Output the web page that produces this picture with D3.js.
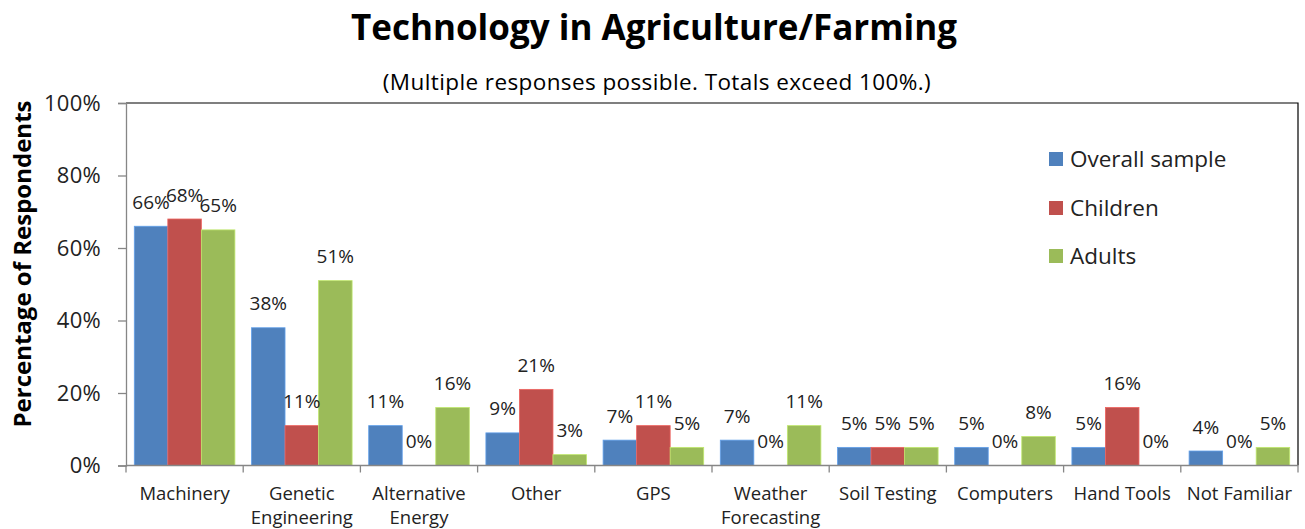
<!DOCTYPE html>
<html>
<head>
<meta charset="utf-8">
<script src="https://cdn.jsdelivr.net/npm/d3@7"></script>
<style>
  html, body { margin: 0; padding: 0; background: #fff; }
  svg { display: block; font-family: "Open Sans", sans-serif; }
</style>
</head>
<body>
<svg id="chart" width="1305" height="529"></svg>
<script>
// Categories and responses (percent of respondents) for each group
const categories = [
  ["Machinery"], ["Genetic", "Engineering"], ["Alternative", "Energy"], ["Other"], ["GPS"],
  ["Weather", "Forecasting"], ["Soil Testing"], ["Computers"], ["Hand Tools"], ["Not Familiar"]
];
const seriesNames = ["Overall sample", "Children", "Adults"];
const overallSample = [66, 38, 11, 9, 7, 7, 5, 5, 5, 4];
const children      = [68, 11, 0, 21, 11, 0, 5, 0, 16, 0];
const adults        = [65, 51, 16, 3, 5, 11, 5, 8, 0, 5];
const yTicks = [0, 20, 40, 60, 80, 100];
const colors = ["#4F81BD", "#C0504D", "#9BBB59"];

const seriesValues = [overallSample, children, adults];
const catKeys = categories.map(c => c.join(" "));

const svg = d3.select("#chart");
const plot = { left: 126, right: 1298, top: 103, bottom: 465.5 };

const x0 = d3.scaleBand().domain(catKeys).range([plot.left, plot.right]);
const groupPad = 8.3;
const x1 = d3.scaleBand().domain(seriesNames)
  .range([groupPad, x0.bandwidth() - groupPad]);
const y = d3.scaleLinear().domain([0, 100]).range([plot.bottom, plot.top]);
const color = d3.scaleOrdinal().domain(seriesNames).range(colors);

// Title and subtitle
svg.append("text")
  .attr("x", 654).attr("y", 40)
  .attr("text-anchor", "middle")
  .attr("font-weight", "bold").attr("font-size", 35)
  .attr("fill", "#000")
  .text("Technology in Agriculture/Farming");

svg.append("text")
  .attr("x", 657).attr("y", 90)
  .attr("text-anchor", "middle")
  .attr("font-size", 22.5).attr("letter-spacing", 0.4).attr("fill", "#000")
  .text("(Multiple responses possible. Totals exceed 100%.)");

// Y axis title
svg.append("text")
  .attr("transform", "translate(31,264) rotate(-90)")
  .attr("text-anchor", "middle")
  .attr("font-weight", "bold").attr("font-size", 24)
  .attr("fill", "#000")
  .text("Percentage of Respondents");

// Plot frame: top and right edges
svg.append("path")
  .attr("d", `M${plot.left},${plot.top}H${plot.right}V${plot.bottom}`)
  .attr("fill", "none").attr("stroke", "#000").attr("stroke-width", 1.2);

// Bars
const groups = svg.append("g").selectAll("g")
  .data(catKeys)
  .join("g")
  .attr("transform", d => `translate(${x0(d)},0)`);

const barData = (d, i) => seriesNames.map((s, k) => ({ s, v: seriesValues[k][i] }));

groups.selectAll("rect")
  .data(barData)
  .join("rect")
  .attr("x", d => x1(d.s))
  .attr("width", x1.bandwidth())
  .attr("y", d => y(d.v))
  .attr("height", d => y(0) - y(d.v))
  .attr("fill", d => color(d.s))
  .attr("stroke", d => d3.color(color(d.s)).brighter(0.6))
  .attr("stroke-width", 0.8);

// Value labels
groups.selectAll("text.val")
  .data(barData)
  .join("text")
  .attr("class", "val")
  .attr("x", d => x1(d.s) + x1.bandwidth() / 2)
  .attr("y", d => y(d.v) - 17.5)
  .attr("text-anchor", "middle")
  .attr("font-size", 19).attr("fill", "#222")
  .text(d => d.v + "%");

// Y axis
const yAxis = svg.append("g")
  .attr("transform", `translate(${plot.left},0)`)
  .call(d3.axisLeft(y).tickValues(yTicks).tickFormat(d => d + "%").tickSize(8).tickPadding(17));
yAxis.select(".domain").attr("stroke", "#868686").attr("stroke-width", 1.3);
yAxis.selectAll(".tick line").attr("stroke", "#868686").attr("stroke-width", 1.3);
yAxis.selectAll(".tick text")
  .attr("font-family", "Open Sans, sans-serif")
  .attr("font-size", 22).attr("letter-spacing", 0.3).attr("fill", "#222");

// X axis
const xAxis = svg.append("g")
  .attr("transform", `translate(0,${plot.bottom})`);
xAxis.append("line")
  .attr("x1", plot.left).attr("x2", plot.right)
  .attr("stroke", "#868686").attr("stroke-width", 1.3);
xAxis.selectAll("line.tick")
  .data(d3.range(catKeys.length + 1))
  .join("line")
  .attr("class", "tick")
  .attr("x1", i => i < catKeys.length ? x0(catKeys[i]) : plot.right)
  .attr("x2", i => i < catKeys.length ? x0(catKeys[i]) : plot.right)
  .attr("y1", 0).attr("y2", 7)
  .attr("stroke", "#868686").attr("stroke-width", 1.3);

const catLabels = xAxis.selectAll("text.cat")
  .data(categories)
  .join("text")
  .attr("class", "cat")
  .attr("text-anchor", "middle")
  .attr("font-size", 18.5).attr("fill", "#222")
  .attr("x", (d, i) => x0(catKeys[i]) + x0.bandwidth() / 2);
catLabels.selectAll("tspan")
  .data(d => d)
  .join("tspan")
  .attr("x", function () { return this.parentNode.getAttribute("x"); })
  .attr("y", (d, i) => 34 + i * 24.5)
  .text(d => d);

// Legend
const legend = svg.append("g").attr("transform", "translate(1049,0)");
const legendY = [159, 208, 256];
seriesNames.forEach((s, k) => {
  legend.append("rect")
    .attr("x", 0).attr("y", legendY[k] - 7)
    .attr("width", 14).attr("height", 14)
    .attr("fill", color(s));
  legend.append("text")
    .attr("x", 21).attr("y", legendY[k] + 8)
    .attr("font-size", 22.5).attr("fill", "#222")
    .text(s);
});
</script>
</body>
</html>
